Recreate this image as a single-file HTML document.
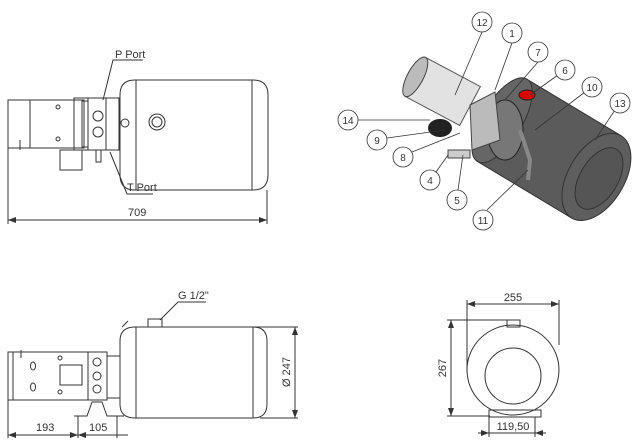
<!DOCTYPE html>
<html><head><meta charset="utf-8"><style>
html,body{margin:0;padding:0;background:#fff;width:640px;height:444px;overflow:hidden}
svg{display:block}
text{font-family:"Liberation Sans",sans-serif;fill:#333}
</style></head><body>
<svg width="640" height="444" viewBox="0 0 640 444" xmlns="http://www.w3.org/2000/svg">
<defs>
<marker id="ar" markerWidth="8" markerHeight="6" refX="8" refY="3" orient="auto-start-reverse"><path d="M0,0 L8,3 L0,6 z" fill="#333"/></marker>
</defs>
<g stroke="#333" stroke-width="1" fill="none">
<!-- TOP-LEFT VIEW -->
<path d="M135,80 H253 Q268,80 268,95 V175 Q268,190 253,190 H135 Q120,190 120,175 V95 Q120,80 135,80 Z"/>
<line x1="136" y1="80" x2="136" y2="190"/><line x1="252" y1="80" x2="252" y2="190"/>
<circle cx="157" cy="122" r="8"/><circle cx="157" cy="122" r="5"/>
<circle cx="125" cy="123" r="4"/>
<rect x="8" y="100" width="76" height="48"/>
<line x1="30" y1="100" x2="30" y2="148"/>
<rect x="74" y="98" width="45" height="52"/>
<rect x="88" y="98" width="18" height="52"/>
<rect x="82" y="101" width="6" height="46"/>
<circle cx="98" cy="116" r="5"/><circle cx="98" cy="132" r="5"/>
<rect x="60" y="150" width="22" height="20"/>
<rect x="96" y="150" width="5" height="12"/>
<circle cx="58" cy="107" r="2"/><circle cx="58" cy="139" r="2"/>
<line x1="20" y1="140" x2="20" y2="150"/>
<path d="M103,100 L113,60 H143"/>
<path d="M110,152 L127,194 H153"/>
<line x1="8" y1="148" x2="8" y2="224"/><line x1="267" y1="190" x2="267" y2="224"/>
<line x1="8" y1="220" x2="267" y2="220" marker-start="url(#ar)" marker-end="url(#ar)"/>
<!-- BOTTOM-LEFT VIEW -->
<path d="M135,327 H253 Q267,327 267,341 V404 Q267,418 253,418 H135 Q120,418 120,404 V341 Q120,327 135,327 Z"/>
<line x1="136" y1="327" x2="136" y2="418"/><line x1="253" y1="327" x2="253" y2="418"/>
<rect x="148" y="319" width="14" height="8"/>
<line x1="122" y1="327" x2="128" y2="321"/>
<rect x="8" y="352" width="80" height="48"/>
<line x1="13" y1="352" x2="13" y2="400"/>
<rect x="88" y="352" width="19" height="48"/>
<rect x="107" y="356" width="13" height="42"/>
<circle cx="97" cy="362" r="4"/><circle cx="97" cy="376" r="4"/><circle cx="97" cy="389" r="4"/>
<rect x="60" y="365" width="22" height="20"/>
<ellipse cx="33" cy="366" rx="2.5" ry="4"/><ellipse cx="33" cy="387" rx="2.5" ry="4"/>
<circle cx="60" cy="358" r="2"/><circle cx="60" cy="392" r="2"/>
<line x1="21" y1="350" x2="21" y2="358"/>
<path d="M74,416 H87 L92,402 H102 L107,416 H124"/>
<path d="M160,320 L178,302 H206"/>
<line x1="8" y1="400" x2="8" y2="438"/><line x1="78" y1="416" x2="78" y2="438"/><line x1="117" y1="416" x2="117" y2="438"/>
<line x1="8" y1="435" x2="78" y2="435" marker-start="url(#ar)" marker-end="url(#ar)"/>
<line x1="78" y1="435" x2="117" y2="435" marker-start="url(#ar)"/>
<line x1="117" y1="435" x2="128" y2="435"/>
<line x1="250" y1="327" x2="298" y2="327"/><line x1="260" y1="418" x2="298" y2="418"/>
<line x1="295" y1="327" x2="295" y2="418" marker-start="url(#ar)" marker-end="url(#ar)"/>
<!-- RIGHT VIEW -->
<ellipse cx="513" cy="370" rx="46" ry="45"/>
<circle cx="513" cy="376" r="28"/>
<rect x="507" y="320" width="13" height="7"/>
<rect x="489" y="410" width="52" height="7"/>
<line x1="467" y1="300" x2="467" y2="372"/><line x1="559" y1="300" x2="559" y2="345"/>
<line x1="467" y1="304" x2="559" y2="304" marker-start="url(#ar)" marker-end="url(#ar)"/>
<line x1="447" y1="320" x2="507" y2="320"/><line x1="447" y1="416" x2="490" y2="416"/>
<line x1="451" y1="320" x2="451" y2="416" marker-start="url(#ar)" marker-end="url(#ar)"/>
<line x1="489" y1="417" x2="489" y2="437"/><line x1="535" y1="417" x2="535" y2="437"/>
<line x1="478" y1="433" x2="489" y2="433" marker-end="url(#ar)"/>
<line x1="489" y1="433" x2="535" y2="433"/>
<line x1="546" y1="433" x2="535" y2="433" marker-end="url(#ar)"/>
</g>
<text x="115" y="58" font-size="11">P Port</text>
<text x="127" y="191" font-size="11">T Port</text>
<text x="128" y="216" font-size="11">709</text>
<text x="178" y="299" font-size="11">G 1/2"</text>
<text x="36" y="431" font-size="11">193</text>
<text x="89" y="431" font-size="11">105</text>
<text x="290" y="372" font-size="11" transform="rotate(-90 290 372)" text-anchor="middle">Ø 247</text>
<text x="513" y="301" font-size="11" text-anchor="middle">255</text>
<text x="446" y="368" font-size="11" transform="rotate(-90 446 368)" text-anchor="middle">267</text>
<text x="513" y="430" font-size="11" text-anchor="middle">119,50</text>
<!-- 3D VIEW -->
<g transform="translate(515,128) rotate(31)">
<rect x="-15" y="-48" width="110" height="96" fill="#5b5b5b" stroke="#333"/>
<ellipse cx="-15" cy="0" rx="20" ry="48" fill="#666" stroke="#333"/>
<ellipse cx="95" cy="0" rx="28" ry="48" fill="#5e5e5e" stroke="#333"/>
<ellipse cx="98" cy="0" rx="19" ry="34" fill="#555" stroke="#333"/>
</g>
<g transform="translate(440,90) rotate(28)">
<rect x="-28" y="-22" width="62" height="44" fill="#e2e2e2" stroke="#555"/>
<ellipse cx="-28" cy="0" rx="8" ry="22" fill="#bbb" stroke="#444"/>
</g>
<ellipse cx="505" cy="130" rx="18" ry="30" fill="#777" stroke="#222"/>
<path d="M470,105 L495,92 L500,140 L472,150 Z" fill="#bbb" stroke="#444"/>
<ellipse cx="440" cy="128" rx="12" ry="9" fill="#222"/>
<ellipse cx="527" cy="95" rx="8" ry="5" fill="#d00" stroke="#222"/>
<path d="M448,150 L470,150 L470,158 L448,158 Z" fill="#ccc" stroke="#444"/>
<path d="M520,130 L530,160 L528,180" stroke="#888" stroke-width="4" fill="none"/>
<g stroke="#333" stroke-width="0.8" fill="#fff">
<line x1="482" y1="32" x2="455" y2="95"/>
<line x1="512" y1="43" x2="495" y2="90"/>
<line x1="538" y1="62" x2="505" y2="100"/>
<line x1="558" y1="75" x2="530" y2="95"/>
<line x1="585" y1="92" x2="535" y2="130"/>
<line x1="615" y1="110" x2="595" y2="140"/>
<line x1="358" y1="120" x2="430" y2="120"/>
<line x1="387" y1="138" x2="445" y2="130"/>
<line x1="412" y1="152" x2="460" y2="133"/>
<line x1="436" y1="172" x2="448" y2="155"/>
<line x1="458" y1="190" x2="463" y2="155"/>
<line x1="487" y1="210" x2="528" y2="170"/>
<circle cx="482" cy="22" r="10"/><circle cx="512" cy="33" r="10"/><circle cx="538" cy="52" r="10"/>
<circle cx="565" cy="70" r="10"/><circle cx="592" cy="87" r="10"/><circle cx="620" cy="103" r="10"/>
<circle cx="348" cy="120" r="10"/><circle cx="377" cy="140" r="10"/><circle cx="403" cy="157" r="10"/>
<circle cx="430" cy="180" r="10"/><circle cx="457" cy="200" r="10"/><circle cx="483" cy="220" r="10"/>
</g>
<g font-size="10" text-anchor="middle">
<text x="482" y="26">12</text><text x="512" y="37">1</text><text x="538" y="56">7</text>
<text x="565" y="74">6</text><text x="592" y="91">10</text><text x="620" y="107">13</text>
<text x="348" y="124">14</text><text x="377" y="144">9</text><text x="403" y="161">8</text>
<text x="430" y="184">4</text><text x="457" y="204">5</text><text x="483" y="224">11</text>
</g>
</svg>
</body></html>
